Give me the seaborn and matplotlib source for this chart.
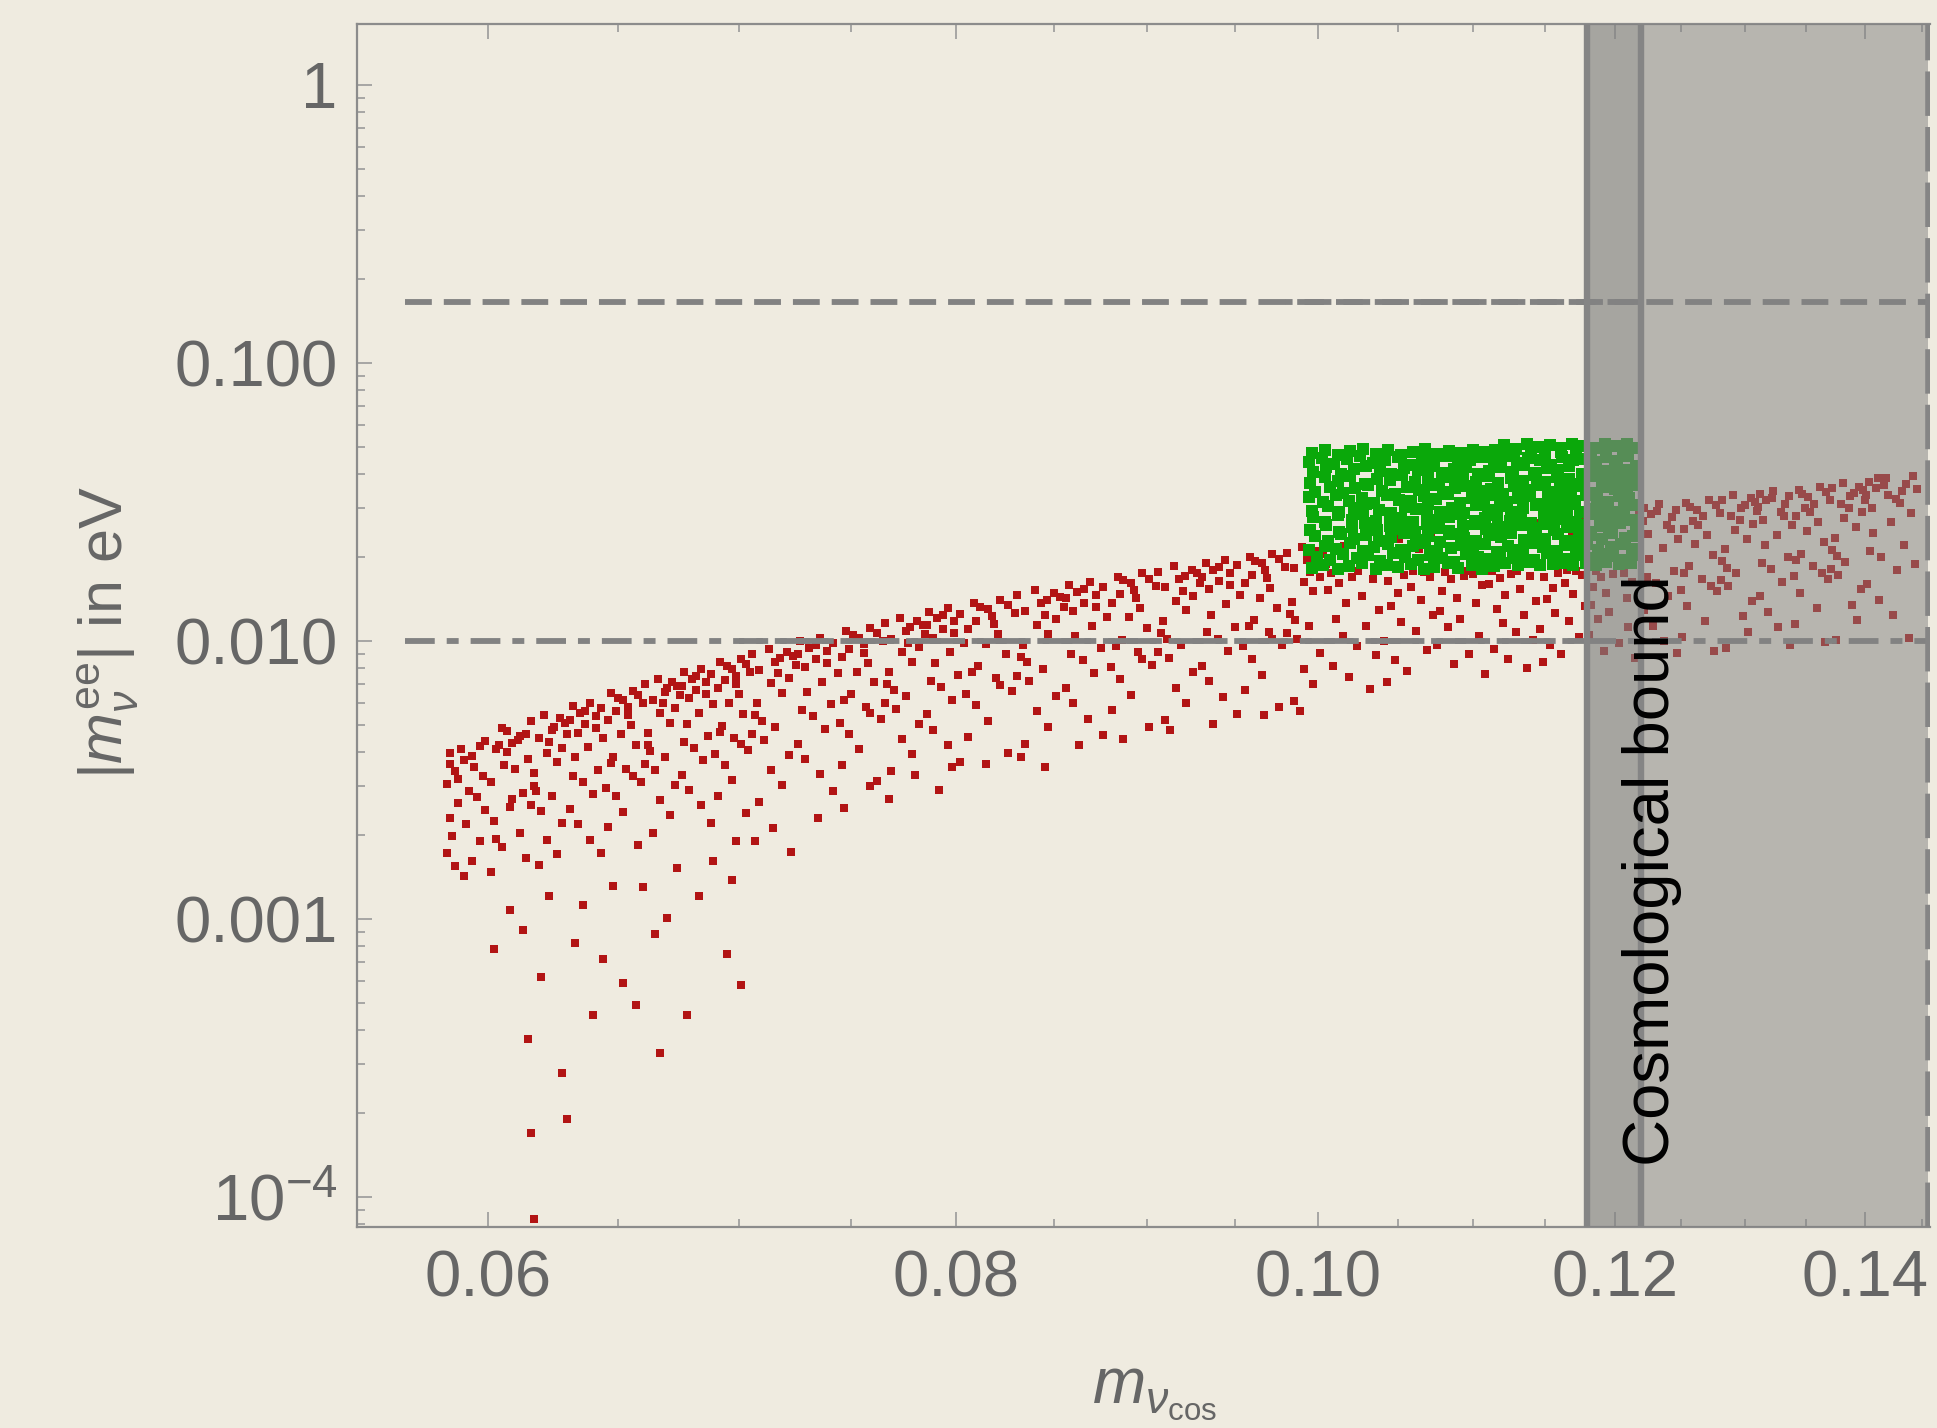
import matplotlib
matplotlib.use("Agg")
import matplotlib.pyplot as plt
import matplotlib.ticker as mticker
import seaborn as sns
import pandas as pd

# ---------------- data ----------------
# main red band, listed bin by bin along the x axis
red_x = [
    0.0586,0.0591,0.0588,0.0597,0.0585,0.0593,0.0599,0.0589,0.0586,0.0595,0.0590,0.0598,0.0587,0.0592,0.0596,0.0585,0.0594,0.0588,0.0599,0.0591,0.0586,0.0597,0.0589,0.0594,
    0.0603,0.0611,0.0607,0.0601,0.0614,0.0605,0.0609,0.0612,0.0602,0.0608,0.0606,0.0613,0.0601,0.0610,0.0604,0.0615,0.0607,0.0612,0.0603,0.0609,0.0605,0.0614,
    0.0617,0.0624,0.0620,0.0628,0.0616,0.0622,0.0626,0.0619,0.0629,0.0623,0.0618,0.0627,0.0621,0.0625,0.0616,0.0630,0.0619,0.0624,0.0628,0.0622,0.0626,0.0617,
    0.0632,0.0639,0.0635,0.0643,0.0631,0.0637,0.0641,0.0634,0.0644,0.0638,0.0633,0.0642,0.0636,0.0640,0.0631,0.0645,0.0634,0.0639,0.0643,0.0637,0.0641,0.0632,
    0.0647,0.0654,0.0650,0.0658,0.0646,0.0652,0.0656,0.0649,0.0659,0.0653,0.0648,0.0657,0.0651,0.0655,0.0646,0.0660,0.0649,0.0654,0.0658,0.0652,0.0656,0.0647,
    0.0662,0.0669,0.0665,0.0673,0.0661,0.0667,0.0671,0.0664,0.0674,0.0668,0.0663,0.0672,0.0666,0.0670,0.0661,0.0675,0.0664,0.0669,0.0673,0.0667,0.0671,0.0662,
    0.0677,0.0684,0.0680,0.0688,0.0676,0.0682,0.0686,0.0679,0.0689,0.0683,0.0678,0.0687,0.0681,0.0685,0.0676,0.0690,0.0679,0.0684,0.0688,0.0682,0.0686,0.0677,
    0.0692,0.0699,0.0695,0.0703,0.0691,0.0697,0.0701,0.0694,0.0704,0.0698,0.0693,0.0702,0.0696,0.0700,0.0691,0.0705,0.0694,0.0699,0.0703,0.0697,0.0701,0.0692,
    0.0707,0.0716,0.0711,0.0722,0.0706,0.0714,0.0719,0.0709,0.0724,0.0717,0.0710,0.0721,0.0713,0.0718,0.0706,0.0725,0.0709,0.0716,0.0722,0.0714,0.0719,0.0708,
    0.0727,0.0736,0.0731,0.0742,0.0726,0.0734,0.0739,0.0729,0.0744,0.0737,0.0730,0.0741,0.0733,0.0738,0.0726,0.0745,0.0729,0.0736,0.0742,0.0734,0.0739,0.0728,
    0.0747,0.0756,0.0751,0.0762,0.0746,0.0754,0.0759,0.0749,0.0764,0.0757,0.0750,0.0761,0.0753,0.0758,0.0746,0.0765,0.0749,0.0756,0.0762,0.0754,0.0759,0.0748,
    0.0767,0.0776,0.0771,0.0782,0.0766,0.0774,0.0779,0.0769,0.0784,0.0777,0.0770,0.0781,0.0773,0.0778,0.0766,0.0785,0.0769,0.0776,0.0782,0.0774,0.0779,0.0768,
    0.0787,0.0796,0.0791,0.0802,0.0786,0.0794,0.0799,0.0789,0.0804,0.0797,0.0790,0.0801,0.0793,0.0798,0.0786,0.0805,0.0789,0.0796,0.0802,0.0794,0.0799,0.0788,
    0.0808,0.0819,0.0812,0.0826,0.0806,0.0816,0.0822,0.0810,0.0828,0.0820,0.0811,0.0825,0.0815,0.0821,0.0806,0.0830,0.0810,0.0818,0.0826,0.0816,0.0822,0.0809,
    0.0833,0.0844,0.0837,0.0851,0.0831,0.0841,0.0847,0.0835,0.0853,0.0845,0.0836,0.0850,0.0840,0.0846,0.0831,0.0855,0.0835,0.0843,0.0851,0.0841,0.0847,0.0834,
    0.0858,0.0869,0.0862,0.0876,0.0856,0.0866,0.0872,0.0860,0.0878,0.0870,0.0861,0.0875,0.0865,0.0871,0.0856,0.0880,0.0860,0.0868,0.0876,0.0866,0.0872,0.0859,
    0.0883,0.0894,0.0887,0.0901,0.0881,0.0891,0.0897,0.0885,0.0903,0.0895,0.0886,0.0900,0.0890,0.0896,0.0881,0.0905,0.0885,0.0893,0.0901,0.0891,0.0897,0.0884,
    0.0908,0.0919,0.0912,0.0926,0.0906,0.0916,0.0922,0.0910,0.0928,0.0920,0.0911,0.0925,0.0915,0.0921,0.0906,0.0930,0.0910,0.0918,0.0926,0.0916,0.0922,0.0909,
    0.0933,0.0944,0.0937,0.0951,0.0931,0.0941,0.0947,0.0935,0.0953,0.0945,0.0936,0.0950,0.0940,0.0946,0.0931,0.0955,0.0935,0.0943,0.0951,0.0941,0.0947,0.0934,
    0.0958,0.0969,0.0962,0.0976,0.0956,0.0966,0.0972,0.0960,0.0978,0.0970,0.0961,0.0975,0.0965,0.0971,0.0956,0.0980,0.0960,0.0968,0.0976,0.0966,0.0972,0.0959,
    0.0983,0.0994,0.0987,0.1001,0.0981,0.0991,0.0997,0.0985,0.1003,0.0995,0.0986,0.1000,0.0990,0.0996,0.0981,0.1005,0.0985,0.0993,0.1001,0.0991,0.0997,0.0984,
    0.1008,0.1021,0.1013,0.1034,0.1006,0.1027,0.1017,0.1038,0.1011,0.1030,0.1015,0.1024,0.1036,0.1009,0.1019,0.1032,0.1025,0.1016,0.1029,0.1037,
    0.1043,0.1056,0.1048,0.1069,0.1041,0.1062,0.1052,0.1073,0.1046,0.1065,0.1050,0.1059,0.1071,0.1044,0.1054,0.1067,0.1060,0.1051,0.1064,0.1072,
    0.1078,0.1091,0.1083,0.1104,0.1076,0.1097,0.1087,0.1108,0.1081,0.1100,0.1085,0.1094,0.1106,0.1079,0.1089,0.1102,0.1095,0.1086,0.1099,0.1107,
    0.1113,0.1126,0.1118,0.1139,0.1111,0.1132,0.1122,0.1143,0.1116,0.1135,0.1120,0.1129,0.1141,0.1114,0.1124,0.1137,0.1130,0.1121,0.1134,0.1142,
    0.1148,0.1161,0.1153,0.1174,0.1146,0.1167,0.1157,0.1178,0.1151,0.1170,0.1155,0.1164,0.1176,0.1149,0.1159,0.1172,0.1165,0.1156,0.1169,0.1177,
    0.1183,0.1196,0.1188,0.1210,0.1181,0.1203,0.1192,0.1215,0.1186,0.1207,0.1190,0.1199,0.1213,0.1184,0.1194,0.1209,0.1218,0.1219,0.1201,0.1191,
    0.1222,0.1233,0.1227,0.1246,0.1221,0.1239,0.1243,0.1225,0.1248,0.1236,0.1226,0.1245,0.1231,0.1240,0.1222,0.1250,0.1229,0.1237,0.1247,0.1232,0.1242,0.1224,
    0.1252,0.1263,0.1257,0.1276,0.1251,0.1269,0.1273,0.1255,0.1278,0.1266,0.1256,0.1275,0.1261,0.1270,0.1252,0.1280,0.1259,0.1267,0.1277,0.1262,0.1272,0.1254,
    0.1282,0.1293,0.1287,0.1306,0.1281,0.1299,0.1303,0.1285,0.1308,0.1296,0.1286,0.1305,0.1291,0.1300,0.1282,0.1310,0.1289,0.1297,0.1307,0.1292,0.1302,0.1284,
    0.1312,0.1323,0.1317,0.1336,0.1311,0.1329,0.1333,0.1315,0.1338,0.1326,0.1316,0.1335,0.1321,0.1330,0.1312,0.1340,0.1319,0.1327,0.1337,0.1322,0.1332,0.1314,
    0.1342,0.1353,0.1347,0.1366,0.1341,0.1359,0.1363,0.1345,0.1368,0.1356,0.1346,0.1365,0.1351,0.1360,0.1342,0.1370,0.1349,0.1357,0.1367,0.1352,0.1362,0.1344,
    0.1372,0.1383,0.1377,0.1396,0.1371,0.1389,0.1393,0.1375,0.1398,0.1386,0.1376,0.1395,0.1381,0.1390,0.1372,0.1400,0.1379,0.1387,0.1397,0.1382,0.1392,0.1374,
    0.1403,0.1418,0.1409,0.1436,0.1401,0.1427,0.1432,0.1406,0.1440,0.1422,0.1407,0.1434,0.1414,0.1428,0.1402,0.1444,0.1412,0.1424,0.1438,0.1416,0.1430,0.1404,0.1442,0.1420,0.1411,0.1445,
]
red_y = [
    0.00395,0.00372,0.00341,0.00418,0.00305,0.00288,0.00436,0.00262,0.00231,0.00352,0.00408,0.00327,0.00198,0.00219,0.00274,0.00172,0.00385,0.00155,0.00246,0.00143,0.00362,0.00190,0.00318,0.00162,
    0.00194,0.00441,0.00473,0.00147,0.00165,0.00181,0.00269,0.00203,0.00226,0.00252,0.00358,0.00284,0.00311,0.00347,0.00422,0.00376,0.00398,0.00455,0.00409,0.00431,0.00487,0.00462,
    0.00302,0.00276,0.00244,0.00221,0.00258,0.00193,0.00171,0.00156,0.00505,0.00432,0.00289,0.00528,0.00541,0.00492,0.00517,0.00463,0.00446,0.00478,0.00412,0.00395,0.00368,0.00335,
    0.00583,0.00597,0.00551,0.00572,0.00519,0.00503,0.00538,0.00468,0.00449,0.00416,0.00381,0.00344,0.00312,0.00281,0.00248,0.00295,0.00219,0.00193,0.00172,0.00562,0.00487,0.00327,
    0.00364,0.00541,0.00626,0.00185,0.00214,0.00243,0.00328,0.00276,0.00312,0.00347,0.00382,0.00423,0.00462,0.00498,0.00521,0.00596,0.00558,0.00579,0.00637,0.00614,0.00662,0.00648,
    0.00421,0.00382,0.00344,0.00304,0.00361,0.00268,0.00236,0.00204,0.00690,0.00596,0.00401,0.00712,0.00731,0.00676,0.00702,0.00638,0.00615,0.00657,0.00574,0.00549,0.00508,0.00466,
    0.00773,0.00792,0.00731,0.00760,0.00691,0.00666,0.00712,0.00621,0.00594,0.00550,0.00504,0.00456,0.00413,0.00372,0.00329,0.00391,0.00290,0.00256,0.00222,0.00748,0.00645,0.00434,
    0.00472,0.00701,0.00813,0.00241,0.00278,0.00315,0.00425,0.00358,0.00404,0.00449,0.00496,0.00548,0.00598,0.00646,0.00675,0.00774,0.00724,0.00751,0.00826,0.00795,0.00861,0.00838,
    0.00541,0.00489,0.00440,0.00390,0.00463,0.00343,0.00303,0.00263,0.00886,0.00764,0.00515,0.00912,0.00938,0.00866,0.00899,0.00818,0.00789,0.00843,0.00736,0.00704,0.00652,0.00597,
    0.00998,0.01026,0.00947,0.00983,0.00895,0.00863,0.00922,0.00805,0.00770,0.00713,0.00653,0.00592,0.00535,0.00481,0.00427,0.00506,0.00375,0.00331,0.00288,0.00969,0.00836,0.00563,
    0.00611,0.00907,0.01052,0.00313,0.00359,0.00407,0.00549,0.00463,0.00522,0.00581,0.00643,0.00709,0.00774,0.00836,0.00874,0.01001,0.00937,0.00972,0.01067,0.01028,0.01114,0.01083,
    0.00699,0.00632,0.00568,0.00504,0.00597,0.00443,0.00391,0.00340,0.01144,0.00987,0.00665,0.01178,0.01211,0.01118,0.01160,0.01057,0.01019,0.01088,0.00951,0.00909,0.00842,0.00771,
    0.01273,0.01309,0.01208,0.01253,0.01142,0.01101,0.01176,0.01028,0.00982,0.00910,0.00833,0.00755,0.00683,0.00614,0.00545,0.00645,0.00479,0.00422,0.00368,0.01236,0.01066,0.00719,
    0.00773,0.01146,0.01328,0.00395,0.00453,0.00515,0.00693,0.00586,0.00660,0.00734,0.00811,0.00895,0.00978,0.01055,0.01104,0.01264,0.01183,0.01227,0.01347,0.01298,0.01407,0.01368,
    0.00879,0.00795,0.00715,0.00635,0.00751,0.00558,0.00491,0.00427,0.01439,0.01241,0.00837,0.01482,0.01524,0.01406,0.01459,0.01329,0.01282,0.01369,0.01196,0.01143,0.01060,0.00970,
    0.01587,0.01632,0.01505,0.01562,0.01423,0.01372,0.01466,0.01281,0.01224,0.01134,0.01038,0.00941,0.00851,0.00766,0.00680,0.00804,0.00598,0.00526,0.00457,0.01540,0.01329,0.00896,
    0.00960,0.01424,0.01651,0.00490,0.00564,0.00641,0.00862,0.00729,0.00821,0.00912,0.01008,0.01113,0.01216,0.01312,0.01373,0.01571,0.01471,0.01525,0.01674,0.01613,0.01749,0.01701,
    0.01070,0.00968,0.00871,0.00774,0.00915,0.00680,0.00599,0.00520,0.01752,0.01512,0.01019,0.01805,0.01857,0.01712,0.01777,0.01619,0.01561,0.01668,0.01457,0.01393,0.01290,0.01181,
    0.01900,0.01954,0.01802,0.01870,0.01704,0.01643,0.01755,0.01534,0.01466,0.01358,0.01243,0.01126,0.01019,0.00917,0.00815,0.00963,0.00716,0.00630,0.00548,0.01844,0.01591,0.01073,
    0.01132,0.01678,0.01946,0.00578,0.00664,0.00755,0.01016,0.00860,0.00967,0.01075,0.01188,0.01311,0.01432,0.01547,0.01618,0.01852,0.01733,0.01798,0.01973,0.01901,0.02061,0.02004,
    0.01250,0.01131,0.01018,0.00905,0.01069,0.00795,0.00699,0.00608,0.02047,0.01766,0.01191,0.02109,0.02169,0.02000,0.02076,0.01892,0.01824,0.01948,0.01702,0.01628,0.01507,0.01379,
    0.01752,0.01698,0.01611,0.01665,0.01523,0.01452,0.01368,0.01297,0.01204,0.01128,0.01042,0.00961,0.00889,0.00812,0.00741,0.00672,0.01783,0.0219,0.0205,0.0226,
    0.00712,0.00779,0.00852,0.00928,0.01002,0.01083,0.01166,0.01241,0.01336,0.01402,0.01487,0.01566,0.01695,0.01648,0.01722,0.01771,0.01789,0.0232,0.0214,0.0241,
    0.01279,0.01203,0.01121,0.01045,0.00971,0.00896,0.00824,0.00758,0.01765,0.01736,0.01672,0.01708,0.01589,0.01514,0.01431,0.01368,0.01791,0.0246,0.0221,0.0253,
    0.01778,0.01745,0.01684,0.01719,0.01608,0.01537,0.01459,0.01394,0.01308,0.01235,0.01156,0.01079,0.01006,0.00934,0.00862,0.00801,0.01792,0.0258,0.0232,0.0266,
    0.00842,0.00898,0.00966,0.01037,0.01108,0.01183,0.01258,0.01331,0.01414,0.01477,0.01552,0.01621,0.01728,0.01692,0.01749,0.01781,0.01795,0.0271,0.0243,0.0281,
    0.01342,0.01271,0.01198,0.01125,0.01054,0.00985,0.00921,0.00866,0.01792,0.01758,0.01701,0.01735,0.01629,0.01562,0.01487,0.01425,0.0288,0.0262,0.0285,0.0258,
    0.03012,0.03097,0.02857,0.02964,0.02703,0.02606,0.02784,0.02432,0.02324,0.02152,0.01971,0.01786,0.01616,0.01452,0.01291,0.01524,0.01134,0.00998,0.00905,0.02923,0.02521,0.01697,
    0.01761,0.02617,0.03034,0.00922,0.01036,0.01177,0.01582,0.01340,0.01507,0.01677,0.01854,0.02046,0.02234,0.02412,0.02525,0.02890,0.02705,0.02806,0.03077,0.02966,0.03215,0.03126,
    0.01933,0.01749,0.01571,0.01397,0.01650,0.01227,0.01080,0.00945,0.03164,0.02729,0.01836,0.03260,0.03352,0.03093,0.03208,0.02925,0.02821,0.03013,0.02633,0.02515,0.02329,0.02133,
    0.03374,0.03470,0.03201,0.03321,0.03028,0.02920,0.03119,0.02725,0.02603,0.02411,0.02208,0.02001,0.01810,0.01626,0.01446,0.01708,0.01270,0.01118,0.00968,0.03275,0.02825,0.01900,
    0.01959,0.02913,0.03377,0.00988,0.01153,0.01309,0.01761,0.01491,0.01677,0.01866,0.02063,0.02277,0.02486,0.02684,0.02810,0.03216,0.03011,0.03122,0.03424,0.03301,0.03578,0.03479,
    0.02131,0.01927,0.01732,0.01540,0.01819,0.01352,0.01191,0.01008,0.03488,0.03009,0.02023,0.03593,0.03696,0.03409,0.03537,0.03225,0.03110,0.03322,0.02902,0.02772,0.02568,0.02352,
    0.03736,0.03843,0.03545,0.03678,0.03353,0.03234,0.03454,0.03017,0.02882,0.02670,0.02446,0.02216,0.02004,0.01801,0.01601,0.01891,0.01406,0.01238,0.01025,0.03627,0.03129,0.02104,0.03912,0.03350,0.03870,0.03510,
]
# sparse red points below the band
red_sparse_x = [0.0602,0.0608,0.0613,0.0615,0.0616,0.0617,0.0620,0.0623,0.0628,0.0630,0.0633,0.0636,0.0640,0.0644,0.0648,0.0652,
                0.0657,0.0660,0.0665,0.0667,0.0670,0.0674,0.0678,0.0683,0.0689,0.0695,0.0699,0.0701,0.0697,0.0707,0.0715,0.0723,
                0.0735,0.0747,0.0759,0.0768,0.0780,0.0792,0.0798,0.0815,0.0833,0.0845,0.0863,0.0887,0.0913,0.0937,0.0967,0.0989]
red_sparse_y = [0.00078,0.00108,0.00091,0.00037,0.00017,0.000083,0.00062,0.00121,0.00028,0.00019,0.00082,0.00112,0.00045,0.00072,0.00131,0.00059,
                0.00049,0.00130,0.00088,0.00033,0.00101,0.00152,0.00045,0.00121,0.00162,0.00075,0.00191,0.00058,0.00138,0.00191,0.00212,0.00174,
                0.00231,0.00251,0.00302,0.00271,0.00329,0.00291,0.00352,0.00362,0.00381,0.00352,0.00421,0.00445,0.00478,0.00502,0.00541,0.00562]

green_x = [
    0.0996,0.1003,0.1012,0.1019,0.1027,0.1036,0.1043,0.1050,0.1059,0.1067,0.1074,0.1083,0.1090,0.1099,0.1106,0.1114,0.1122,0.1131,0.1138,0.1146,0.1155,0.1162,0.1170,0.1179,0.1186,0.1194,0.1203,0.1212,
    0.0999,0.1007,0.1015,0.1024,0.1031,0.1039,0.1047,0.1055,0.1063,0.1071,0.1079,0.1087,0.1095,0.1103,0.1110,0.1118,0.1127,0.1134,0.1142,0.1151,0.1158,0.1166,0.1175,0.1182,0.1190,0.1199,0.1207,0.1215,
    0.0994,0.1004,0.1011,0.1020,0.1028,0.1035,0.1044,0.1052,0.1060,0.1068,0.1076,0.1085,0.1092,0.1100,0.1108,0.1116,0.1124,0.1132,0.1140,0.1148,0.1157,0.1164,0.1172,0.1180,0.1188,0.1197,0.1205,0.1213,
    0.0998,0.1006,0.1014,0.1022,0.1030,0.1038,0.1046,0.1054,0.1062,0.1070,0.1078,0.1086,0.1094,0.1102,0.1111,0.1119,0.1126,0.1135,0.1143,0.1150,0.1159,0.1167,0.1174,0.1183,0.1191,0.1198,0.1208,0.1214,
    0.0995,0.1005,0.1013,0.1021,0.1029,0.1037,0.1045,0.1053,0.1061,0.1069,0.1077,0.1084,0.1093,0.1101,0.1109,0.1117,0.1125,0.1133,0.1141,0.1149,0.1156,0.1165,0.1173,0.1181,0.1189,0.1196,0.1204,0.1216,
    0.0997,0.1004,0.1012,0.1021,0.1028,0.1036,0.1045,0.1052,0.1060,0.1069,0.1076,0.1084,0.1092,0.1101,0.1108,0.1116,0.1125,0.1133,0.1140,0.1149,0.1157,0.1165,0.1172,0.1181,0.1189,0.1197,0.1206,0.1213,
    0.0996,0.1006,0.1013,0.1022,0.1030,0.1038,0.1046,0.1055,0.1062,0.1070,0.1078,0.1086,0.1094,0.1102,0.1110,0.1118,0.1126,0.1134,0.1143,0.1151,0.1158,0.1166,0.1175,0.1183,0.1190,0.1198,0.1207,0.1215,
    0.0994,0.1003,0.1011,0.1019,0.1027,0.1035,0.1043,0.1051,0.1059,0.1067,0.1075,0.1083,0.1091,0.1099,0.1107,0.1115,0.1123,0.1131,0.1139,0.1147,0.1155,0.1163,0.1171,0.1179,0.1187,0.1195,0.1203,0.1211,
    0.0998,0.1007,0.1015,0.1023,0.1031,0.1040,0.1048,0.1056,0.1064,0.1072,0.1080,0.1088,0.1096,0.1104,0.1112,0.1120,0.1128,0.1136,0.1144,0.1152,0.1160,0.1168,0.1176,0.1184,0.1192,0.1200,0.1209,0.1216,
    0.0995,0.1004,0.1012,0.1020,0.1029,0.1037,0.1045,0.1053,0.1061,0.1070,0.1077,0.1085,0.1093,0.1102,0.1110,0.1117,0.1126,0.1134,0.1142,0.1150,0.1158,0.1167,0.1174,0.1182,0.1191,0.1199,0.1207,0.1214,
    0.0997,0.1005,0.1014,0.1022,0.1030,0.1039,0.1046,0.1054,0.1063,0.1071,0.1079,0.1087,0.1095,0.1103,0.1111,0.1119,0.1127,0.1135,0.1143,0.1151,0.1159,0.1167,0.1176,0.1184,0.1192,0.1200,0.1208,0.1216,
    0.0994,0.1002,0.1010,0.1018,0.1026,0.1034,0.1042,0.1050,0.1058,0.1066,0.1074,0.1082,0.1090,0.1098,0.1106,0.1114,0.1122,0.1130,0.1138,0.1146,0.1154,0.1162,0.1170,0.1178,0.1186,0.1194,0.1202,0.1210,
    0.0996,0.1004,0.1012,0.1020,0.1028,0.1036,0.1044,0.1052,0.1060,0.1068,0.1076,0.1084,0.1092,0.1100,0.1108,0.1115,0.1121,0.1129,0.1137,0.1145,0.1153,0.1161,0.1169,0.1177,0.1185,0.1193,0.1201,0.1209,
    0.1118,0.1128,0.1140,0.1150,0.1161,0.1172,0.1183,0.1194,0.1206,0.1216,
]
green_y = [
    0.0183,0.0188,0.0181,0.0186,0.0190,0.0182,0.0187,0.0184,0.0189,0.0181,0.0185,0.0191,0.0183,0.0187,0.0182,0.0186,0.0190,0.0188,0.0192,0.0187,0.0189,0.0191,0.0188,0.0190,0.0187,0.0192,0.0189,0.0190,
    0.0201,0.0195,0.0206,0.0198,0.0203,0.0194,0.0207,0.0200,0.0196,0.0204,0.0199,0.0193,0.0205,0.0201,0.0197,0.0206,0.0199,0.0203,0.0195,0.0208,0.0200,0.0197,0.0204,0.0198,0.0206,0.0202,0.0195,0.0203,
    0.0212,0.0220,0.0215,0.0225,0.0210,0.0218,0.0223,0.0213,0.0219,0.0226,0.0211,0.0216,0.0222,0.0214,0.0224,0.0209,0.0219,0.0213,0.0225,0.0217,0.0211,0.0221,0.0215,0.0224,0.0212,0.0218,0.0223,0.0214,
    0.0238,0.0229,0.0243,0.0233,0.0240,0.0228,0.0236,0.0244,0.0231,0.0239,0.0227,0.0242,0.0234,0.0229,0.0241,0.0236,0.0245,0.0230,0.0238,0.0233,0.0243,0.0228,0.0237,0.0241,0.0232,0.0244,0.0235,0.0239,
    0.0251,0.0262,0.0247,0.0257,0.0265,0.0250,0.0259,0.0253,0.0246,0.0263,0.0255,0.0249,0.0260,0.0264,0.0252,0.0258,0.0248,0.0261,0.0254,0.0264,0.0250,0.0256,0.0262,0.0247,0.0259,0.0253,0.0265,0.0251,
    0.0279,0.0268,0.0284,0.0273,0.0286,0.0270,0.0281,0.0276,0.0267,0.0285,0.0272,0.0280,0.0287,0.0269,0.0277,0.0283,0.0271,0.0279,0.0266,0.0285,0.0274,0.0282,0.0268,0.0287,0.0276,0.0270,0.0281,0.0273,
    0.0293,0.0306,0.0290,0.0301,0.0310,0.0296,0.0288,0.0304,0.0299,0.0311,0.0292,0.0302,0.0289,0.0308,0.0297,0.0305,0.0291,0.0300,0.0309,0.0294,0.0303,0.0311,0.0290,0.0298,0.0307,0.0292,0.0301,0.0309,
    0.0330,0.0315,0.0336,0.0320,0.0327,0.0313,0.0334,0.0322,0.0318,0.0331,0.0325,0.0337,0.0314,0.0328,0.0321,0.0335,0.0317,0.0326,0.0333,0.0312,0.0324,0.0330,0.0319,0.0336,0.0323,0.0316,0.0332,0.0327,
    0.0344,0.0359,0.0340,0.0354,0.0363,0.0347,0.0339,0.0357,0.0350,0.0365,0.0342,0.0355,0.0361,0.0346,0.0352,0.0338,0.0360,0.0348,0.0364,0.0343,0.0356,0.0349,0.0362,0.0341,0.0358,0.0353,0.0345,0.0363,
    0.0371,0.0388,0.0376,0.0393,0.0368,0.0384,0.0379,0.0395,0.0373,0.0386,0.0367,0.0390,0.0381,0.0374,0.0392,0.0369,0.0385,0.0377,0.0394,0.0372,0.0389,0.0383,0.0366,0.0391,0.0375,0.0387,0.0380,0.0393,
    0.0405,0.0421,0.0398,0.0415,0.0427,0.0409,0.0400,0.0418,0.0412,0.0426,0.0403,0.0416,0.0424,0.0397,0.0410,0.0422,0.0406,0.0428,0.0401,0.0419,0.0413,0.0425,0.0399,0.0417,0.0408,0.0423,0.0411,0.0427,
    0.0440,0.0456,0.0433,0.0451,0.0462,0.0437,0.0448,0.0459,0.0431,0.0453,0.0444,0.0461,0.0435,0.0449,0.0457,0.0442,0.0463,0.0438,0.0455,0.0446,0.0430,0.0460,0.0447,0.0452,0.0439,0.0458,0.0443,0.0462,
    0.0476,0.0488,0.0468,0.0483,0.0490,0.0472,0.0486,0.0465,0.0480,0.0489,0.0470,0.0484,0.0474,0.0487,0.0478,0.0485,0.0505,0.0492,0.0510,0.0498,0.0508,0.0494,0.0511,0.0501,0.0496,0.0509,0.0503,0.0512,
    0.0475,0.0469,0.0481,0.0472,0.0478,0.0466,0.0484,0.0471,0.0479,0.0495,
]

x_major = [0.06, 0.08, 0.10, 0.12, 0.14]
x_major_labels = ["0.06", "0.08", "0.10", "0.12", "0.14"]
x_minor = [0.065, 0.07, 0.075, 0.085, 0.09, 0.095, 0.105, 0.11, 0.115, 0.125, 0.13, 0.135, 0.145]
y_major = [1e-4, 1e-3, 1e-2, 1e-1, 1.0]
y_major_labels = [r"$10^{-4}$", "0.001", "0.010", "0.100", "1"]

upper_bound = 0.165          # dashed horizontal line
sensitivity = 0.01           # dash-dot horizontal line
line_start = 0.057
second_dash_start, second_dash_end = 0.098, 0.122
second_dd_start, second_dd_end = 0.070, 0.118
cosmo_lo, cosmo_hi, cosmo_edge = 0.118, 0.122, 0.1455
x_limits = (0.05535, 0.1457)
y_limits = (7.8e-5, 1.657)
cosmo_text = "Cosmological bound"
cosmo_text_pos = (0.1241, 1.29e-4)

# ---------------- style ----------------
BG = "#efebe0"
RED = "#b21414"
GREEN = "#0aa80a"
LINE = "#828282"
TXT = "#666666"

sns.set_theme(style="white")
plt.rcParams.update({
    "font.family": ["Liberation Sans", "DejaVu Sans"],
    "mathtext.fontset": "custom",
    "mathtext.rm": "Liberation Sans",
    "mathtext.it": "Liberation Sans:italic",
    "mathtext.bf": "Liberation Sans:bold",
    "mathtext.sf": "Liberation Sans",
})

fig = plt.figure(figsize=(19.37, 14.28), dpi=100, facecolor=BG)
ax = fig.add_axes([0.1843, 0.1408, 0.8121, 0.8424])
ax.set_facecolor(BG)
ax.set_xscale("log")
ax.set_yscale("log")

red_df = pd.DataFrame({"m_cos": red_x + red_sparse_x, "m_ee": red_y + red_sparse_y})
green_df = pd.DataFrame({"m_cos": green_x, "m_ee": green_y})

sns.scatterplot(data=red_df, x="m_cos", y="m_ee", ax=ax, color=RED, s=28,
                marker="s", linewidth=0, zorder=2, legend=False)
sns.scatterplot(data=green_df, x="m_cos", y="m_ee", ax=ax, color=GREEN, s=72,
                marker="s", linewidth=0, zorder=3, legend=False)

# shaded excluded region (drawn over the points, semi-transparent)
ax.axvspan(cosmo_lo, cosmo_edge, color="#808080", alpha=0.5, lw=0, zorder=4)
ax.axvspan(cosmo_lo, cosmo_hi, color="#808080", alpha=0.3, lw=0, zorder=4)

# reference lines
LW = 4.2
ax.hlines(upper_bound, line_start, cosmo_edge, colors=LINE, lw=LW,
          linestyles=[(0, (4.6, 2.05))], zorder=6)
ax.hlines(upper_bound, second_dash_start, second_dash_end, colors=LINE, lw=LW,
          linestyles=[(3.3, (4.6, 2.05))], zorder=6)
ax.hlines(sensitivity, line_start, cosmo_edge, colors=LINE, lw=LW,
          linestyles=[(0, (5.1, 2.05, 2.05, 2.05))], zorder=6)
ax.hlines(sensitivity, second_dd_start, second_dd_end, colors=LINE, lw=LW,
          linestyles=[(4.2, (5.1, 2.05, 2.05, 2.05))], zorder=6)
ax.axvline(cosmo_lo, color="#858585", lw=4.6, zorder=6)
ax.axvline(cosmo_hi, color="#858585", lw=4.6, zorder=6)
ax.axvline(cosmo_edge, color="#858585", lw=4.0, ls=(0, (8, 2)), zorder=6)

ax.text(cosmo_text_pos[0], cosmo_text_pos[1], cosmo_text, rotation=90,
        rotation_mode="anchor", ha="left", va="baseline", fontsize=47,
        color="black", zorder=7)

ax.set_xlim(*x_limits)
ax.set_ylim(*y_limits)

ax.xaxis.set_major_locator(mticker.FixedLocator(x_major))
ax.xaxis.set_major_formatter(mticker.FixedFormatter(x_major_labels))
ax.xaxis.set_minor_locator(mticker.FixedLocator(x_minor))
ax.xaxis.set_minor_formatter(mticker.NullFormatter())
ax.yaxis.set_major_locator(mticker.FixedLocator(y_major))
ax.yaxis.set_major_formatter(mticker.FixedFormatter(y_major_labels))
ax.yaxis.set_minor_locator(mticker.LogLocator(base=10, subs=range(2, 10), numticks=20))
ax.yaxis.set_minor_formatter(mticker.NullFormatter())

ax.tick_params(which="both", direction="in", top=True, bottom=True, left=True,
               right=False, labeltop=False, color="#9a9a9a", width=1.2,
               labelcolor=TXT, labelsize=47)
ax.tick_params(which="major", length=11)
ax.tick_params(which="minor", length=6)
ax.tick_params(axis="x", pad=16)
ax.tick_params(axis="y", pad=14)

for side in ["left", "bottom", "top"]:
    ax.spines[side].set_color("#8c8c8c")
    ax.spines[side].set_linewidth(1.6)
ax.spines["right"].set_visible(False)
ax.grid(False)

ax.set_xlabel(r"$m_{\nu_{\mathrm{cos}}}$", fontsize=46, color=TXT)
ax.xaxis.set_label_coords(0.507, -0.112)
ax.xaxis.label.set_va("top")
ax.set_ylabel(r"$|m_{\nu}^{\mathrm{ee}}|$ in eV", fontsize=44, color=TXT)
ax.yaxis.set_label_coords(-0.137, 0.494)

fig.savefig("out.png", dpi=100, facecolor=BG)
